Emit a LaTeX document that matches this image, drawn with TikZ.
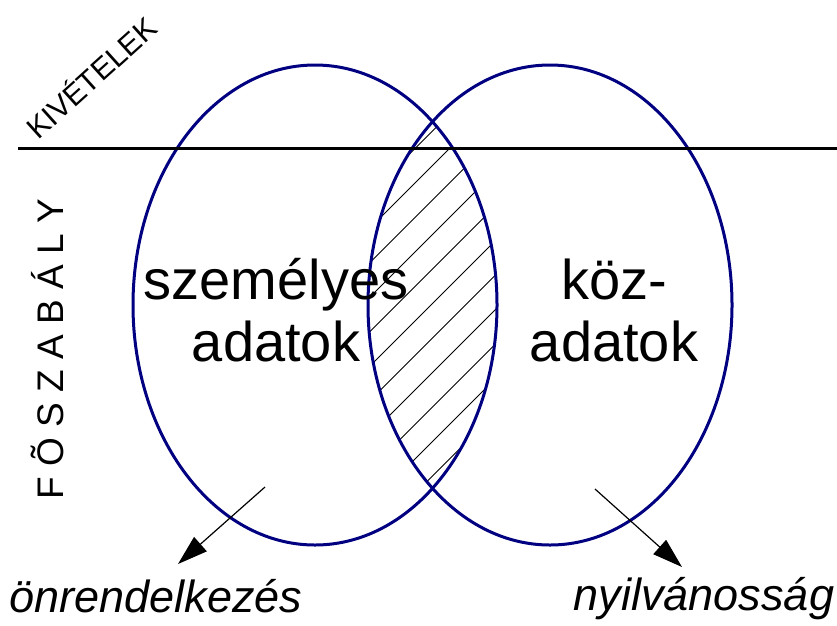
\documentclass[tikz,border=0pt]{standalone}
\usepackage{fontspec}
\setmainfont{Liberation Sans}
\usetikzlibrary{arrows.meta}
\definecolor{navy}{RGB}{0,0,128}
\tikzstyle{set} = [draw=navy, line width=3pt]
\tikzstyle{hatch} = [draw=black, line width=0.8pt]
\tikzstyle{rule} = [draw=black, line width=3pt]
\tikzstyle{big} = [font={\fontsize{56}{62}\selectfont}, align=center, inner sep=0pt]
\tikzstyle{side} = [font={\fontsize{45}{50}\selectfont\itshape}, inner sep=0pt]
\tikzstyle{tag} = [inner sep=0pt]
\tikzstyle{pointer} = [draw=black, line width=1.2pt, -{Triangle[length=30pt,width=19pt]}]

\begin{document}
\begin{tikzpicture}[x=1pt, y=-1pt]
  \useasboundingbox (0,0) rectangle (837,625);
  \coordinate (szc) at (315,305);
  \coordinate (kzc) at (550,305);
  \begin{scope}
    \clip (szc) ellipse [x radius=182, y radius=240];
    \clip (kzc) ellipse [x radius=182, y radius=240];
    \foreach \c in {0,...,11}
      \draw[hatch] (563.5+34.5*\c,0) -- (563.5+34.5*\c-600,600);
  \end{scope}
  \draw[set] (szc) ellipse [x radius=182, y radius=240];
  \draw[set] (kzc) ellipse [x radius=182, y radius=240];
  \coordinate (rule-w) at (18,148);
  \coordinate (rule-e) at (837,148);
  \draw[rule] (rule-w) -- (rule-e);
  \node[big] (szem) at (276,310) {személyes\\adatok};
  \node[big] (koz) at (614,310) {köz-\\adatok};
  \node[tag, rotate=42, anchor=base west, font={\fontsize{30}{31}\selectfont}] (kiv) at (38,141) {KIVÉTELEK};
  \node[tag, rotate=90, font={\fontsize{37}{38}\selectfont}] (fosz) at (47,349) {F Õ S Z A B Á L Y};
  \node[side, anchor=base] (onr) at (156,612) {önrendelkezés};
  \node[side, anchor=base] (nyil) at (704,610) {nyilvánosság};
  \coordinate (onr-from) at (265,487);
  \coordinate (onr-to) at (178,564);
  \coordinate (nyil-from) at (595,489);
  \coordinate (nyil-to) at (682,567);
  \draw[pointer] (onr-from) -- (onr-to);
  \draw[pointer] (nyil-from) -- (nyil-to);
\end{tikzpicture}
\end{document}
